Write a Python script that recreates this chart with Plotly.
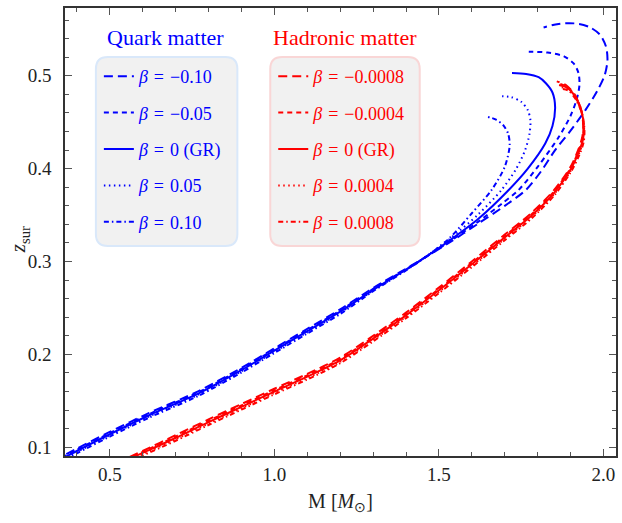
import plotly.graph_objects as go

# ---------------- data: mass M [M_sun] vs surface redshift z_sur ----------------
# Quark matter (blue), beta values
quark_labels = ["β = −0.10", "β = −0.05", "β = 0 (GR)", "β = 0.05", "β = 0.10"]

q_m10_M = [0.33, 0.40, 0.50, 0.62, 0.77, 0.90, 1.00, 1.10, 1.20, 1.30, 1.43, 1.53,
           1.62, 1.70, 1.764, 1.81, 1.853, 1.90, 1.945, 1.98, 2.003, 2.012, 2.008,
           1.99, 1.96, 1.924, 1.884, 1.85, 1.818]
q_m10_z = [0.0855, 0.0985, 0.1165, 0.137, 0.1605, 0.1855, 0.2065, 0.2275, 0.2485, 0.2715, 0.2985, 0.320,
           0.341, 0.360, 0.377, 0.397, 0.420, 0.441, 0.463, 0.483, 0.500, 0.516, 0.531,
           0.544, 0.552, 0.556, 0.5565, 0.555, 0.552]

q_m05_M = [0.33, 0.40, 0.50, 0.62, 0.77, 0.90, 1.00, 1.10, 1.20, 1.30, 1.43, 1.53,
           1.62, 1.69, 1.742, 1.80, 1.864, 1.90, 1.918, 1.927, 1.924, 1.91, 1.88, 1.83, 1.773]
q_m05_z = [0.0843, 0.0973, 0.1153, 0.1358, 0.1593, 0.1843, 0.2053, 0.2263, 0.2473, 0.2705, 0.298, 0.321,
           0.343, 0.362, 0.377, 0.402, 0.434, 0.457, 0.474, 0.490, 0.503, 0.513, 0.521, 0.525, 0.526]

q_gr_M = [0.33, 0.40, 0.50, 0.62, 0.77, 0.90, 1.00, 1.10, 1.20, 1.30, 1.43, 1.53,
          1.62, 1.712, 1.77, 1.823, 1.845, 1.853, 1.845, 1.825, 1.803, 1.765, 1.722]
q_gr_z = [0.083, 0.096, 0.114, 0.1345, 0.158, 0.183, 0.204, 0.225, 0.246, 0.2695, 0.298, 0.322,
          0.346, 0.377, 0.400, 0.427, 0.446, 0.466, 0.482, 0.492, 0.4985, 0.502, 0.503]

q_p05_M = [0.33, 0.40, 0.50, 0.62, 0.77, 0.90, 1.00, 1.10, 1.20, 1.30, 1.43, 1.53,
           1.62, 1.69, 1.735, 1.762, 1.775, 1.778, 1.77, 1.75, 1.72, 1.692]
q_p05_z = [0.0818, 0.0948, 0.1128, 0.1333, 0.1568, 0.1818, 0.2028, 0.2238, 0.2448, 0.2688, 0.2978, 0.3235,
           0.351, 0.377, 0.400, 0.420, 0.437, 0.452, 0.463, 0.472, 0.477, 0.478]

q_p10_M = [0.33, 0.40, 0.50, 0.62, 0.77, 0.90, 1.00, 1.10, 1.20, 1.30, 1.43, 1.53,
           1.60, 1.66, 1.70, 1.715, 1.71, 1.695, 1.672, 1.646]
q_p10_z = [0.0805, 0.0935, 0.1115, 0.132, 0.1555, 0.1805, 0.2015, 0.2225, 0.2435, 0.268, 0.2975, 0.3245,
           0.352, 0.377, 0.402, 0.425, 0.438, 0.447, 0.453, 0.456]

# Hadronic matter (red), beta values
hadron_labels = ["β = −0.0008", "β = −0.0004", "β = 0 (GR)", "β = 0.0004", "β = 0.0008"]

h_m08_M = [0.56, 0.60, 0.70, 0.80, 0.90, 1.00, 1.10, 1.20, 1.30, 1.40, 1.50, 1.60, 1.70, 1.78, 1.85, 1.90,
           1.924, 1.936, 1.938, 1.931, 1.912, 1.886, 1.858]
h_m08_z = [0.0895, 0.096, 0.113, 0.130, 0.1465, 0.163, 0.179, 0.1965, 0.220, 0.245, 0.272, 0.300, 0.329, 0.352, 0.377, 0.402,
           0.421, 0.435, 0.449, 0.465, 0.480, 0.490, 0.494]

h_m04_M = [0.57, 0.60, 0.70, 0.80, 0.90, 1.00, 1.10, 1.20, 1.30, 1.40, 1.50, 1.60, 1.70, 1.78, 1.85, 1.90,
           1.925, 1.937, 1.939, 1.932, 1.914, 1.888, 1.862]
h_m04_z = [0.090, 0.095, 0.1115, 0.1285, 0.145, 0.1615, 0.1775, 0.195, 0.2185, 0.2435, 0.2705, 0.2985, 0.3275, 0.3505, 0.3755, 0.4005,
           0.4195, 0.4335, 0.4475, 0.4635, 0.4785, 0.4885, 0.492]

h_gr_M = [0.575, 0.60, 0.70, 0.80, 0.90, 1.00, 1.10, 1.20, 1.30, 1.40, 1.50, 1.60, 1.70, 1.78, 1.85, 1.90,
          1.925, 1.938, 1.940, 1.933, 1.915, 1.89, 1.865]
h_gr_z = [0.090, 0.094, 0.110, 0.127, 0.1435, 0.160, 0.176, 0.1935, 0.217, 0.242, 0.269, 0.297, 0.326, 0.349, 0.374, 0.399,
          0.418, 0.432, 0.446, 0.462, 0.477, 0.487, 0.490]

h_p04_M = [0.58, 0.60, 0.70, 0.80, 0.90, 1.00, 1.10, 1.20, 1.30, 1.40, 1.50, 1.60, 1.70, 1.78, 1.85, 1.90,
           1.926, 1.939, 1.941, 1.934, 1.916, 1.892, 1.868]
h_p04_z = [0.0895, 0.0925, 0.1085, 0.1255, 0.142, 0.1585, 0.1745, 0.192, 0.2155, 0.2405, 0.2675, 0.2955, 0.3245, 0.3475, 0.3725, 0.3975,
           0.4165, 0.4305, 0.4445, 0.4605, 0.4755, 0.4855, 0.488]

h_p08_M = [0.59, 0.60, 0.70, 0.80, 0.90, 1.00, 1.10, 1.20, 1.30, 1.40, 1.50, 1.60, 1.70, 1.78, 1.85, 1.90,
           1.927, 1.940, 1.942, 1.935, 1.917, 1.894, 1.871]
h_p08_z = [0.089, 0.091, 0.107, 0.124, 0.1405, 0.157, 0.173, 0.1905, 0.214, 0.239, 0.266, 0.294, 0.323, 0.346, 0.371, 0.396,
           0.415, 0.429, 0.443, 0.459, 0.474, 0.484, 0.486]

x_range = [0.364, 2.038]
y_range = [0.0906, 0.573]

# ---------------- styling ----------------
BLUE = "#0000ff"
RED = "#ff0000"
FONT = "Liberation Serif"
dashes = ["9px,5px", "5px,4px", "solid", "1.5px,3.5px", "5px,3px,1.5px,3px"]
SP = "\u2004"  # three-per-em space around the equals sign

W, H = 622, 523
ML, MR, MT, MB = 65, 4, 8, 67
PW, PH = W - ML - MR, H - MT - MB


def px_x(x):
    return (x - ML) / PW


def px_y(y):
    return (H - MB - y) / PH


def legend_text(lab):
    return lab.replace("β", "<i>β</i>").replace(" = ", SP + "=" + SP)


fig = go.Figure()

quark = [(q_m10_M, q_m10_z), (q_m05_M, q_m05_z), (q_gr_M, q_gr_z), (q_p05_M, q_p05_z), (q_p10_M, q_p10_z)]
hadron = [(h_m08_M, h_m08_z), (h_m04_M, h_m04_z), (h_gr_M, h_gr_z), (h_p04_M, h_p04_z), (h_p08_M, h_p08_z)]

for i, ((m, z), lab) in enumerate(zip(quark, quark_labels)):
    fig.add_trace(go.Scatter(
        x=m, y=z, mode="lines", name=legend_text(lab),
        line=dict(color=BLUE, width=2, dash=dashes[i], shape="spline", smoothing=0.8),
        legend="legend", legendgroup=f"q{i}", hoverinfo="skip"))

for i, ((m, z), lab) in enumerate(zip(hadron, hadron_labels)):
    fig.add_trace(go.Scatter(
        x=m, y=z, mode="lines", name=legend_text(lab),
        line=dict(color=RED, width=2, dash=dashes[i], shape="spline", smoothing=0.8),
        legend="legend2", legendgroup=f"h{i}", hoverinfo="skip"))


def rounded_box(x0, y0, x1, y1, r):
    # pixel coordinates -> paper-coordinate path with rounded corners
    rx, ry = r / PW, r / PH
    X0, X1 = px_x(x0), px_x(x1)
    Y0, Y1 = px_y(y0), px_y(y1)  # Y0 top, Y1 bottom
    return (f"M{X0 + rx},{Y0} L{X1 - rx},{Y0} Q{X1},{Y0} {X1},{Y0 - ry} "
            f"L{X1},{Y1 + ry} Q{X1},{Y1} {X1 - rx},{Y1} "
            f"L{X0 + rx},{Y1} Q{X0},{Y1} {X0},{Y1 + ry} "
            f"L{X0},{Y0 - ry} Q{X0},{Y0} {X0 + rx},{Y0} Z")


shapes = [
    dict(type="path", xref="paper", yref="paper", path=rounded_box(96, 57, 238, 246, 12),
         fillcolor="#f1f1f1", line=dict(color="#d9e8fa", width=2), layer="below"),
    dict(type="path", xref="paper", yref="paper", path=rounded_box(271, 57, 421, 246, 12),
         fillcolor="#f1f1f1", line=dict(color="#f9d6d6", width=2), layer="below"),
]

annotations = [
    dict(text="Quark matter", x=px_x(166), y=px_y(37), xref="paper", yref="paper",
         showarrow=False, font=dict(family=FONT, size=22, color=BLUE), xanchor="center", yanchor="middle"),
    dict(text="Hadronic matter", x=px_x(346), y=px_y(37), xref="paper", yref="paper",
         showarrow=False, font=dict(family=FONT, size=22, color=RED), xanchor="center", yanchor="middle"),
    dict(text="<i>z</i><sub>sur</sub>", x=px_x(19), y=px_y(240), xref="paper", yref="paper",
         showarrow=False, textangle=-90, font=dict(family=FONT, size=21, color="#222222"),
         xanchor="center", yanchor="middle"),
]

legend_common = dict(bgcolor="rgba(0,0,0,0)", borderwidth=0, tracegroupgap=10,
                     xanchor="left", yanchor="top", itemclick=False, itemdoubleclick=False)

axis_common = dict(showline=True, linecolor="#333333", linewidth=1.5, mirror="ticks",
                   ticks="inside", ticklen=7, tickwidth=1.2, tickcolor="#555555",
                   showgrid=False, zeroline=False,
                   tickfont=dict(family=FONT, size=19, color="#222222"))

fig.update_layout(
    width=W, height=H,
    margin=dict(l=ML, r=MR, t=MT, b=MB),
    paper_bgcolor="white", plot_bgcolor="white",
    font=dict(family=FONT),
    showlegend=True,
    legend=dict(x=px_x(99), y=px_y(58), font=dict(family=FONT, size=18, color=BLUE), **legend_common),
    legend2=dict(x=px_x(274), y=px_y(58), font=dict(family=FONT, size=18, color=RED), **legend_common),
    shapes=shapes,
    annotations=annotations,
    xaxis=dict(range=x_range, tick0=0.5, dtick=0.5, tickformat=".1f",
               minor=dict(dtick=0.1, tick0=0.5, ticks="inside", ticklen=4, tickcolor="#555555"),
               title=dict(text="M [<i>M</i><sub>⊙</sub>]", font=dict(family=FONT, size=20, color="#222222"), standoff=10),
               **axis_common),
    yaxis=dict(range=y_range, tick0=0.1, dtick=0.1, tickformat=".1f", ticklabelstandoff=8,
               minor=dict(dtick=0.02, tick0=0.1, ticks="inside", ticklen=4, tickcolor="#555555"),
               **axis_common),
)

fig.write_html("out.html")
